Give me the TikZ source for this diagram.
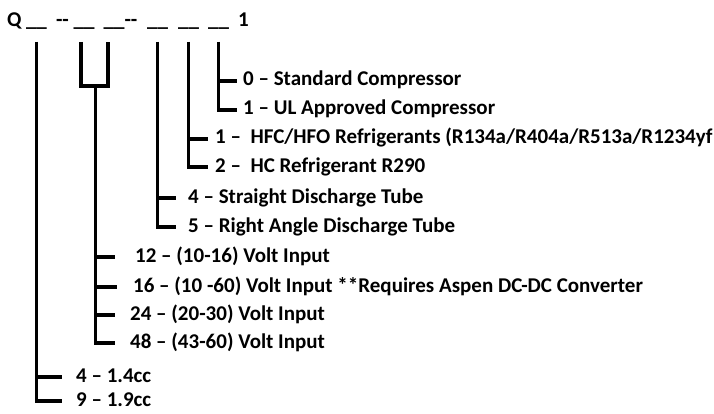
\documentclass[tikz,border=0pt]{standalone}
\usepackage{fontspec}
\setmainfont{Carlito}
\usetikzlibrary{calc}

\begin{document}
\begin{tikzpicture}[x=1pt,y=-1pt,
    font=\fontsize{21}{24}\selectfont\bfseries,
    tree/.style={line width=3.2pt},
    fld/.style={anchor=base,inner sep=0pt},
    lbl/.style={anchor=base west,inner sep=0pt,text height=14pt,text depth=4pt}
  ]
  \useasboundingbox (0,0) rectangle (714,414);

  % model code row
  \node[fld,anchor=base west] (q) at (7,27) {Q};
  \node[fld] (f1) at (36.5,27) {\_\_};
  \node[fld] (d1) at (62.5,27) {-{}-};
  \node[fld] (f2) at (84,27) {\_\_};
  \node[fld] (f3) at (114,27) {\_\_};
  \node[fld] (d2) at (131,27) {-{}-};
  \node[fld] (f4) at (157.5,27) {\_\_};
  \node[fld] (f5) at (188.5,27) {\_\_};
  \node[fld] (f6) at (218.5,27) {\_\_};
  \node[fld,anchor=base west] (one) at (238,27) {1};

  \coordinate (s1) at ([yshift=-15pt]f1.base);
  \coordinate (s2) at ([xshift=-3pt,yshift=-15pt]f2.base);
  \coordinate (s3) at ([xshift=-6pt,yshift=-15pt]f3.base);
  \coordinate (s4) at ([yshift=-15pt]f4.base);
  \coordinate (s5) at ([yshift=-15pt]f5.base);
  \coordinate (s6) at ([yshift=-15pt]f6.base);
  \coordinate (volt) at ($(s2)!0.55!(s3)+(0,44)$);

  % options
  \node[lbl] (l0) at (243,86) {0 – Standard Compressor};
  \node[lbl] (l1) at (243,115) {1 – UL Approved Compressor};
  \node[lbl] (r1) at (215,144) {1 –\ \ HFC/HFO Refrigerants (R134a/R404a/R513a/R1234yf};
  \node[lbl] (r2) at (215,172) {2 –\ \ HC Refrigerant R290};
  \node[lbl] (t4) at (188,203) {4 – Straight Discharge Tube};
  \node[lbl] (t5) at (188,232) {5 – Right Angle Discharge Tube};
  \node[lbl] (v12) at (135,262) {12 – (10-16) Volt Input};
  \node[lbl] (v16) at (133,292) {16 – (10 -60) Volt Input **Requires Aspen DC-DC Converter};
  \node[lbl] (v24) at (130,320) {24 – (20-30) Volt Input};
  \node[lbl] (v48) at (130,348) {48 – (43-60) Volt Input};
  \node[lbl] (c4) at (76,382) {4 – 1.4cc};
  \node[lbl] (c9) at (76,406) {9 – 1.9cc};

  \draw[tree] (s6) |- ([xshift=-6pt]l0.west);
  \draw[tree] (s6) |- ([xshift=-6pt]l1.west);
  \draw[tree] (s5) |- ([xshift=-7pt]r1.west);
  \draw[tree] (s5) |- ([xshift=-7pt]r2.west);
  \draw[tree] (s4) |- ([xshift=-12pt]t4.west);
  \draw[tree] (s4) |- ([xshift=-12pt]t5.west);

  \draw[tree] (s2) |- (volt) -| (s3);
  \draw[tree] (volt) |- ([xshift=-20pt]v12.west);
  \draw[tree] (volt) |- ([xshift=-16pt]v16.west);
  \draw[tree] (volt) |- ([xshift=-15pt]v24.west);
  \draw[tree] (volt) |- ([xshift=-15pt]v48.west);

  \draw[tree] (s1) |- ([xshift=-14pt]c4.west);
  \draw[tree] (s1) |- ([xshift=-14pt]c9.west);
\end{tikzpicture}
\end{document}
